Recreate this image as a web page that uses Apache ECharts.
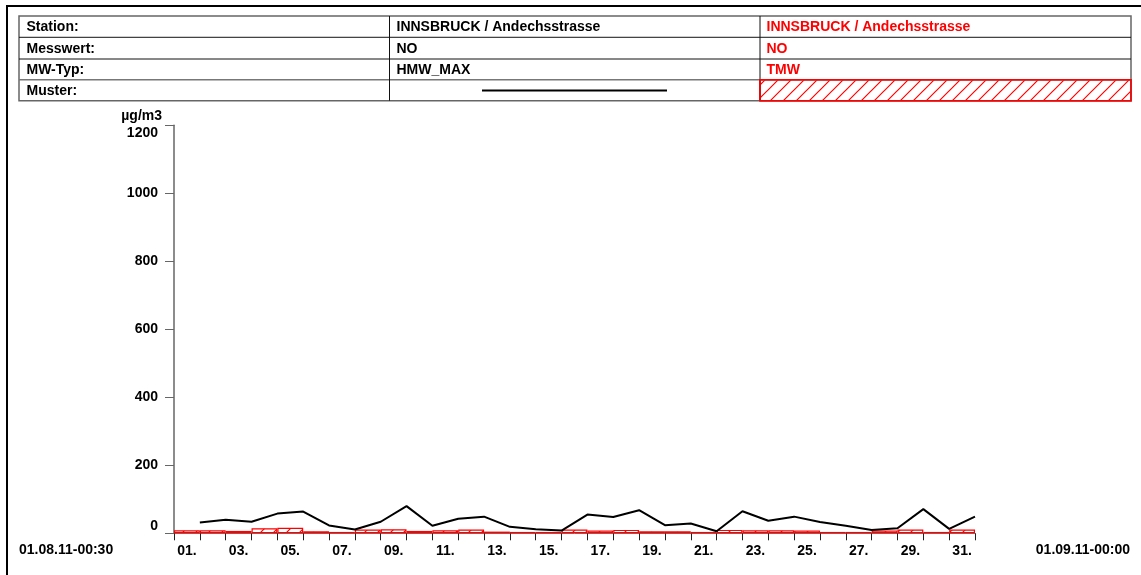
<!DOCTYPE html>
<html>
<head>
<meta charset="utf-8">
<script src="https://cdn.jsdelivr.net/npm/echarts@6/dist/echarts.min.js"></script>
<style>
html,body{margin:0;padding:0;background:#fff;}
#chart{width:1141px;height:575px;}
</style>
</head>
<body>
<div id="chart"></div>
<script>
// ---- data ----
const days = ['01.','02.','03.','04.','05.','06.','07.','08.','09.','10.','11.','12.','13.','14.','15.','16.',
              '17.','18.','19.','20.','21.','22.','23.','24.','25.','26.','27.','28.','29.','30.','31.'];
// HMW_MAX (daily maximum half-hour mean), plotted at day end
const hmwMax = [32,40,34,58,64,23,11,34,80,22,43,49,19,12,8,55,48,68,24,29,6,65,37,49,33,22,10,15,71,13,49];
// TMW (daily mean)
const tmw = [9,9,7,15,16,6,4,11,12,7,9,11,5,4,4,11,8,10,6,6,4,10,9,9,8,4,4,8,11,4,11];
const yTicks = [0,200,400,600,800,1000,1200];
const startLabel = '01.08.11-00:30';
const endLabel = '01.09.11-00:00';
const tableRows = [
  ['Station:', 'INNSBRUCK / Andechsstrasse', 'INNSBRUCK / Andechsstrasse'],
  ['Messwert:', 'NO', 'NO'],
  ['MW-Typ:', 'HMW_MAX', 'TMW'],
  ['Muster:', '', '']
];
const unitLabel = 'µg/m3';

// ---- hatch pattern ----
function makeHatch() {
  const c = document.createElement('canvas');
  c.width = 13; c.height = 13;
  const g = c.getContext('2d');
  g.clearRect(0, 0, 13, 13);
  g.strokeStyle = 'rgb(255,0,0)';
  g.lineWidth = 1.2;
  g.beginPath();
  g.moveTo(-1, 14); g.lineTo(14, -1);
  g.moveTo(-1, 1); g.lineTo(1, -1);
  g.moveTo(12, 14); g.lineTo(14, 12);
  g.stroke();
  return c;
}
const hatch = makeHatch();

const FONT = '"Liberation Sans", Arial, sans-serif';
const chart = echarts.init(document.getElementById('chart'));

// table graphics
const T = {x0: 19, x1: 389.5, x2: 760, x3: 1131, rows: [16, 37.3, 59, 79.7, 100.7]};
const graphics = [];
// outer frame
graphics.push({type:'line', shape:{x1:6, y1:6, x2:1141, y2:6}, style:{stroke:'#000', lineWidth:2}, silent:true});
graphics.push({type:'line', shape:{x1:7, y1:5, x2:7, y2:575}, style:{stroke:'#000', lineWidth:2}, silent:true});
// hatched cell
graphics.push({type:'rect', shape:{x:T.x2, y:T.rows[3], width:T.x3-T.x2, height:T.rows[4]-T.rows[3]},
  style:{fill:{image:hatch, repeat:'repeat'}, stroke:'#ff0000', lineWidth:1.5}, silent:true});
// table border
graphics.push({type:'rect', shape:{x:T.x0, y:T.rows[0], width:T.x3-T.x0, height:T.rows[4]-T.rows[0]},
  style:{fill:'none', stroke:'#666', lineWidth:1.5}, silent:true});
for (let i = 1; i < 4; i++) {
  graphics.push({type:'line', shape:{x1:T.x0, y1:T.rows[i], x2:T.x3, y2:T.rows[i]},
    style:{stroke: i===3 ? '#777' : '#111', lineWidth: i===3 ? 1.5 : 1}, silent:true});
}
[T.x1, T.x2].forEach(x => graphics.push({type:'line', shape:{x1:x, y1:T.rows[0], x2:x, y2:T.rows[4]},
  style:{stroke:'#111', lineWidth:1}, silent:true}));
// red border of the hatched cell on top
graphics.push({type:'rect', shape:{x:T.x2, y:T.rows[3], width:T.x3-T.x2, height:T.rows[4]-T.rows[3]},
  style:{fill:'none', stroke:'#ff0000', lineWidth:1.5}, silent:true});
const colX = [26.5, 396.5, 766.5];
tableRows.forEach((row, r) => {
  const cy = (T.rows[r] + T.rows[r+1]) / 2 + 0.5;
  row.forEach((txt, c) => {
    if (!txt) return;
    graphics.push({type:'text', x: colX[c], y: cy, silent:true,
      style:{text: txt, fill: c===2 ? '#ff0000' : '#000', font: 'bold 14px ' + FONT,
             textAlign:'left', textVerticalAlign:'middle'}});
  });
});
// Muster line
graphics.push({type:'line', shape:{x1:482, y1:90.5, x2:667, y2:90.5}, style:{stroke:'#000', lineWidth:2}, silent:true});
// date labels
graphics.push({type:'text', x:19, y:550, silent:true,
  style:{text:startLabel, fill:'#000', font:'bold 14px ' + FONT, textAlign:'left', textVerticalAlign:'middle'}});
graphics.push({type:'text', x:1130, y:550, silent:true,
  style:{text:endLabel, fill:'#000', font:'bold 14px ' + FONT, textAlign:'right', textVerticalAlign:'middle'}});

const lblStyle = {fontFamily: FONT, fontWeight:'bold', fontSize:14, color:'#000'};

chart.setOption({
  animation: false,
  backgroundColor: '#fff',
  grid: {left: 174, right: 166, top: 125.3, bottom: 41.7, containLabel: false},
  graphic: graphics,
  xAxis: [
    {
      type: 'category', data: days, boundaryGap: true,
      axisLine: {show: true, lineStyle: {color: '#777', width: 1}},
      axisTick: {show: true, interval: 0, length: 7, lineStyle: {color: '#222', width: 1}},
      axisLabel: Object.assign({interval: 1, margin: 11}, lblStyle),
      splitLine: {show: false}
    },
    {
      type: 'value', min: 0, max: 31, show: false, position: 'bottom'
    }
  ],
  yAxis: {
    type: 'value', min: 0, max: 1200, interval: 200,
    name: unitLabel, nameLocation: 'end', nameGap: 9,
    nameTextStyle: Object.assign({align: 'right', verticalAlign: 'middle', padding: [0, 12, 0, 0]}, lblStyle),
    axisLine: {show: true, lineStyle: {color: '#666', width: 1.5}},
    axisTick: {show: true, length: 9, lineStyle: {color: '#666', width: 1}},
    splitLine: {show: false},
    axisLabel: Object.assign({
      margin: 16,
      formatter: v => v === 1200 ? '{t|' + v + '}' : (v === 0 ? '{b|' + v + '}' : String(v)),
      rich: {
        t: Object.assign({padding: [16, 0, 0, 0]}, lblStyle),
        b: Object.assign({padding: [0, 0, 14, 0]}, lblStyle)
      }
    }, lblStyle)
  },
  series: [
    {
      type: 'bar', xAxisIndex: 0, data: tmw, barCategoryGap: '0%',
      itemStyle: {color: {image: hatch, repeat: 'repeat'}, borderColor: '#ff0000', borderWidth: 1.2},
      silent: true, z: 2
    },
    {
      type: 'line', xAxisIndex: 1,
      data: hmwMax.map((v, i) => [i + 1, v]),
      showSymbol: false, symbol: 'none',
      lineStyle: {color: '#000', width: 2},
      silent: true, z: 3
    }
  ]
});
</script>
</body>
</html>
